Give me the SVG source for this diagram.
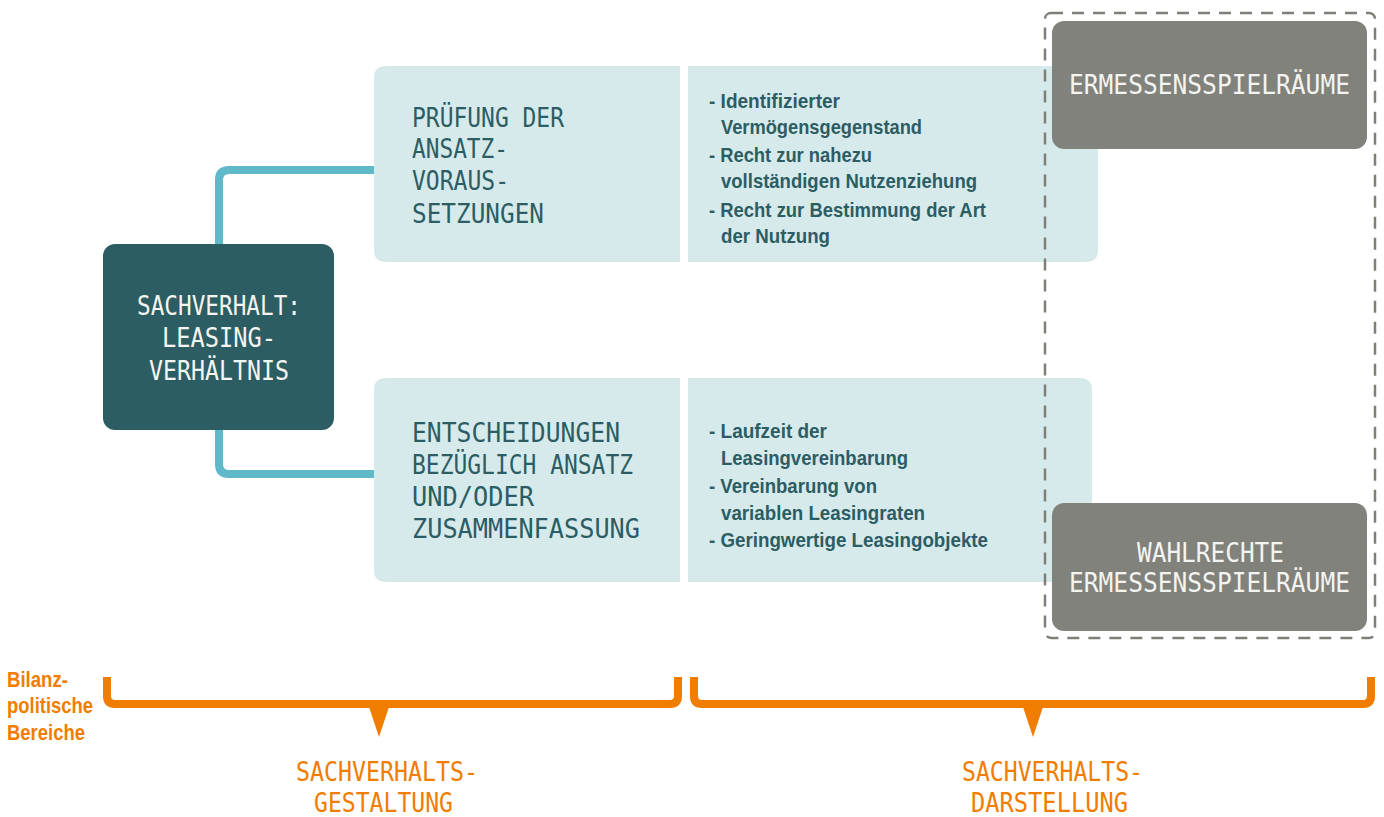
<svg xmlns="http://www.w3.org/2000/svg" width="1384" height="817" viewBox="0 0 1384 817">
<style>
.light{fill:#d6eaec}
.dark{fill:#2c5d63}
.gray{fill:#82827c}
.conn{fill:none;stroke:#5fb9c8;stroke-width:8}
.brk{fill:none;stroke:#f07d00;stroke-width:8}
.dash{fill:none;stroke:#7f7f7a;stroke-width:2.5;stroke-dasharray:12 9}
.hd{font-family:"DejaVu Sans Mono","Liberation Mono",monospace;font-size:26px}
.hdT{fill:#2c5d63}
.hdW{fill:#f4f4f0}
.hdO{fill:#f07d00}
.li{font-family:"Liberation Sans Narrow","Liberation Sans",Arial,sans-serif;font-weight:bold;font-size:21px;fill:#2c5d63}
.or{font-family:"Liberation Sans Narrow","Liberation Sans",Arial,sans-serif;font-weight:bold;font-size:21.5px;fill:#f07d00}
</style>
<rect width="1384" height="817" fill="#ffffff"/>
<g id="connectors">
<path class="conn" d="M374 170 H229 Q219 170 219 180 V244"/>
<path class="conn" d="M219 430 V464 Q219 474 229 474 H374"/>
</g>
<g id="node-pruefung">
<path class="light" d="M386 66 H680 V262 H386 Q374 262 374 250 V78 Q374 66 386 66 Z"/>
<text class="hd hdT" x="412" y="127" textLength="152" lengthAdjust="spacingAndGlyphs">PRÜFUNG DER</text>
<text class="hd hdT" x="412" y="158" textLength="96" lengthAdjust="spacingAndGlyphs">ANSATZ-</text>
<text class="hd hdT" x="412" y="190" textLength="97" lengthAdjust="spacingAndGlyphs">VORAUS-</text>
<text class="hd hdT" x="412" y="223" textLength="132" lengthAdjust="spacingAndGlyphs">SETZUNGEN</text>
</g>
<g id="node-kriterien-oben">
<path class="light" d="M688 66 H1086 Q1098 66 1098 78 V250 Q1098 262 1086 262 H688 Z"/>
<text class="li" x="709" y="108" textLength="131" lengthAdjust="spacingAndGlyphs">- Identifizierter</text>
<text class="li" x="721" y="134" textLength="201" lengthAdjust="spacingAndGlyphs">Vermögensgegenstand</text>
<text class="li" x="709" y="162" textLength="163" lengthAdjust="spacingAndGlyphs">- Recht zur nahezu</text>
<text class="li" x="721" y="188" textLength="256" lengthAdjust="spacingAndGlyphs">vollständigen Nutzenziehung</text>
<text class="li" x="709" y="217" textLength="277" lengthAdjust="spacingAndGlyphs">- Recht zur Bestimmung der Art</text>
<text class="li" x="721" y="243" textLength="109" lengthAdjust="spacingAndGlyphs">der Nutzung</text>
</g>
<g id="node-entscheidungen">
<path class="light" d="M386 378 H680 V582 H386 Q374 582 374 570 V390 Q374 378 386 378 Z"/>
<text class="hd hdT" x="412" y="442" textLength="208" lengthAdjust="spacingAndGlyphs">ENTSCHEIDUNGEN</text>
<text class="hd hdT" x="412" y="474" textLength="221" lengthAdjust="spacingAndGlyphs">BEZÜGLICH ANSATZ</text>
<text class="hd hdT" x="412" y="506" textLength="122" lengthAdjust="spacingAndGlyphs">UND/ODER</text>
<text class="hd hdT" x="412" y="538" textLength="228" lengthAdjust="spacingAndGlyphs">ZUSAMMENFASSUNG</text>
</g>
<g id="node-kriterien-unten">
<path class="light" d="M688 378 H1080 Q1092 378 1092 390 V570 Q1092 582 1080 582 H688 Z"/>
<text class="li" x="709" y="438" textLength="118" lengthAdjust="spacingAndGlyphs">- Laufzeit der</text>
<text class="li" x="721" y="465" textLength="187" lengthAdjust="spacingAndGlyphs">Leasingvereinbarung</text>
<text class="li" x="709" y="493" textLength="168" lengthAdjust="spacingAndGlyphs">- Vereinbarung von</text>
<text class="li" x="721" y="520" textLength="204" lengthAdjust="spacingAndGlyphs">variablen Leasingraten</text>
<text class="li" x="709" y="547" textLength="279" lengthAdjust="spacingAndGlyphs">- Geringwertige Leasingobjekte</text>
</g>
<g id="node-sachverhalt">
<rect class="dark" x="103" y="244" width="231" height="186" rx="12"/>
<text class="hd hdW" x="137" y="315" textLength="164" lengthAdjust="spacingAndGlyphs">SACHVERHALT:</text>
<text class="hd hdW" x="162" y="347" textLength="114" lengthAdjust="spacingAndGlyphs">LEASING-</text>
<text class="hd hdW" x="149" y="380" textLength="140" lengthAdjust="spacingAndGlyphs">VERHÄLTNIS</text>
</g>
<g id="group-ermessen">
<rect class="dash" x="1045" y="13" width="330" height="625" rx="6"/>
</g>
<g id="node-ermessen-oben">
<rect class="gray" x="1052" y="21" width="315" height="128" rx="12"/>
<text class="hd hdW" x="1069" y="94" textLength="281" lengthAdjust="spacingAndGlyphs">ERMESSENSSPIELRÄUME</text>
</g>
<g id="node-wahlrechte">
<rect class="gray" x="1052" y="503" width="315" height="128" rx="12"/>
<text class="hd hdW" x="1137" y="562" textLength="147" lengthAdjust="spacingAndGlyphs">WAHLRECHTE</text>
<text class="hd hdW" x="1069" y="592" textLength="281" lengthAdjust="spacingAndGlyphs">ERMESSENSSPIELRÄUME</text>
</g>
<g id="brackets">
<path class="brk" d="M107 677 V696 Q107 704 115 704 H670 Q678 704 678 696 V677"/>
<path class="brk" d="M694 677 V696 Q694 704 702 704 H1363 Q1371 704 1371 696 V677"/>
<polygon points="369,707 389,707 379,737" fill="#f07d00"/>
<polygon points="1023,707 1043,707 1033,737" fill="#f07d00"/>
</g>
<g id="label-bilanz">
<text class="or" x="7" y="687" textLength="61" lengthAdjust="spacingAndGlyphs">Bilanz-</text>
<text class="or" x="7" y="713" textLength="86" lengthAdjust="spacingAndGlyphs">politische</text>
<text class="or" x="7" y="740" textLength="78" lengthAdjust="spacingAndGlyphs">Bereiche</text>
</g>
<g id="node-gestaltung">
<text class="hd hdO" x="296" y="781" textLength="182" lengthAdjust="spacingAndGlyphs">SACHVERHALTS-</text>
<text class="hd hdO" x="314" y="812" textLength="139" lengthAdjust="spacingAndGlyphs">GESTALTUNG</text>
</g>
<g id="node-darstellung">
<text class="hd hdO" x="962" y="781" textLength="181" lengthAdjust="spacingAndGlyphs">SACHVERHALTS-</text>
<text class="hd hdO" x="971" y="812" textLength="157" lengthAdjust="spacingAndGlyphs">DARSTELLUNG</text>
</g>
</svg>
